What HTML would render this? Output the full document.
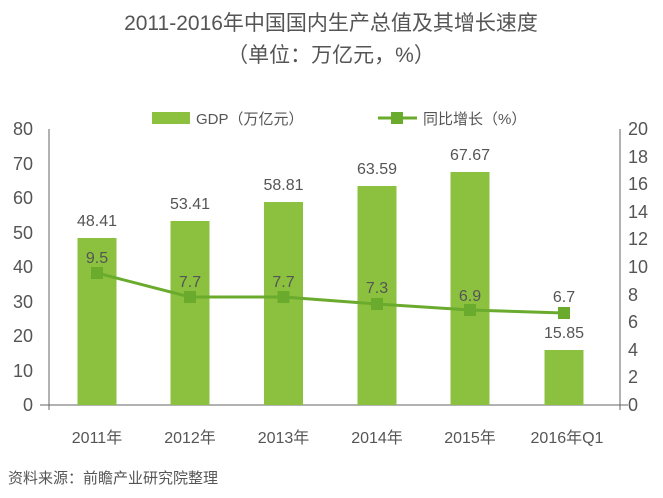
<!DOCTYPE html>
<html><head><meta charset="utf-8"><style>
body{margin:0;background:#fff;}
svg text{font-family:"Liberation Sans","Noto Sans CJK SC",sans-serif;fill:#555;}
</style></head><body>
<svg width="663" height="493" viewBox="0 0 663 493" xmlns="http://www.w3.org/2000/svg">
<text x="331" y="30" font-size="21" text-anchor="middle" font-weight="normal">2011-2016年中国国内生产总值及其增长速度</text>
<text x="331" y="62" font-size="21" text-anchor="middle">（单位：万亿元，%）</text>
<rect x="152" y="112" width="38" height="12" fill="#8cc140"/>
<text x="196" y="124" font-size="15">GDP（万亿元）</text>
<line x1="378" y1="118" x2="417" y2="118" stroke="#6aab2e" stroke-width="3"/>
<rect x="391" y="112" width="12" height="12" fill="#6aab2e"/>
<text x="423" y="124" font-size="15">同比增长（%）</text>
<g font-size="18" text-anchor="end">
<text x="33" y="135">80</text><text x="33" y="170">70</text><text x="33" y="204">60</text><text x="33" y="239">50</text><text x="33" y="273">40</text><text x="33" y="308">30</text><text x="33" y="342">20</text><text x="33" y="377">10</text><text x="33" y="411">0</text>
</g>
<g font-size="18">
<text x="628" y="135">20</text><text x="628" y="163">18</text><text x="628" y="190">16</text><text x="628" y="218">14</text><text x="628" y="245">12</text><text x="628" y="273">10</text><text x="628" y="301">8</text><text x="628" y="328">6</text><text x="628" y="356">4</text><text x="628" y="383">2</text><text x="628" y="411">0</text>
</g>
<g stroke="#666" stroke-width="1">
<line x1="49" y1="129" x2="49" y2="410"/>
<line x1="620" y1="129" x2="620" y2="410"/>
<line x1="40" y1="405" x2="628" y2="405"/>
</g>
<g fill="#8cc140">
<rect x="77.5" y="238" width="39" height="167"/>
<rect x="170.5" y="221" width="39" height="184"/>
<rect x="264" y="202" width="39" height="203"/>
<rect x="357.5" y="186" width="39" height="219"/>
<rect x="450.5" y="172" width="39" height="233"/>
<rect x="544.5" y="350" width="39" height="55"/>
</g>
<g font-size="16" text-anchor="middle">
<text x="97" y="226">48.41</text><text x="190" y="209">53.41</text><text x="283.5" y="190">58.81</text><text x="377" y="174">63.59</text><text x="470" y="160">67.67</text><text x="564" y="338">15.85</text>
</g>
<polyline points="97,273 190,297 283.5,297 377,304 470,310 564,313" fill="none" stroke="#6aab2e" stroke-width="3"/>
<g fill="#6aab2e">
<rect x="91" y="267" width="12" height="12"/><rect x="184" y="291" width="12" height="12"/><rect x="277.5" y="291" width="12" height="12"/><rect x="371" y="298" width="12" height="12"/><rect x="464" y="304" width="12" height="12"/><rect x="558" y="307" width="12" height="12"/>
</g>
<g font-size="16" text-anchor="middle">
<text x="97" y="263" fill="#6e7e55">9.5</text><text x="190" y="287" fill="#6e7e55">7.7</text><text x="283.5" y="287" fill="#6e7e55">7.7</text><text x="377" y="293" fill="#6e7e55">7.3</text><text x="470" y="301" fill="#6e7e55">6.9</text><text x="564" y="302">6.7</text>
</g>
<g font-size="16" text-anchor="middle">
<text x="97" y="443">2011年</text><text x="190" y="443">2012年</text><text x="283.5" y="443">2013年</text><text x="377" y="443">2014年</text><text x="470" y="443">2015年</text><text x="567" y="443">2016年Q1</text>
</g>
<text x="8" y="483" font-size="15">资料来源：前瞻产业研究院整理</text>
</svg>
</body></html>
